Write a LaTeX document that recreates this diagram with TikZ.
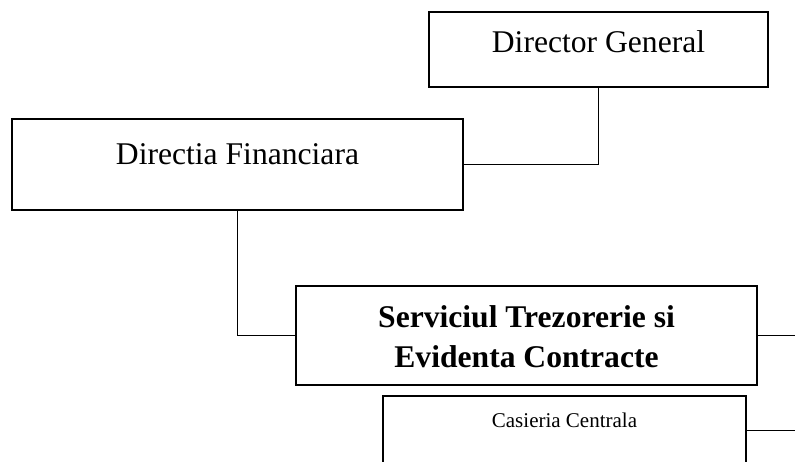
\documentclass[tikz,border=0pt]{standalone}
\usepackage{fontspec}
\setmainfont{Liberation Serif}
\begin{document}
\begin{tikzpicture}[x=1pt,y=-1pt,
  orgbox/.style={draw=black,line width=2.8pt,inner sep=0pt,fill=none},
  bigtext/.style={inner sep=0pt,anchor=base,font=\fontsize{31.6}{40}\selectfont},
  boldtext/.style={inner sep=0pt,anchor=base,font=\fontsize{31.6}{40}\selectfont\bfseries},
  smalltext/.style={inner sep=0pt,anchor=base,font=\fontsize{21}{26}\selectfont},
  link/.style={draw=black,line width=1.3pt},
  thinlink/.style={draw=black,line width=1pt}]
\useasboundingbox (0,0) rectangle (795,461);
\clip (0,0) rectangle (795,461);

% boxes
\node[orgbox,minimum width=339pt,minimum height=75pt] (dg) at (598.5,49.5) {};
\node[orgbox,minimum width=451pt,minimum height=91pt] (df) at (237.5,164.5) {};
\node[orgbox,minimum width=461pt,minimum height=99pt] (stec) at (526.5,335.5) {};
\node[orgbox,minimum width=363pt,minimum height=68pt] (cc) at (564.5,430) {};

% labels
\node[bigtext] (dgt) at (598.5,52) {Director General};
\node[bigtext] (dft) at (237.5,164) {Directia Financiara};
\node[boldtext] (stect1) at (526.5,327) {Serviciul Trezorerie si};
\node[boldtext] (stect2) at (526.5,367) {Evidenta Contracte};
\node[smalltext] (cct) at (564.5,427) {Casieria Centrala};

% free ends at the right margin
\coordinate (stecout) at (795,335.5);
\coordinate (ccout) at (795,430);

% connectors
\draw[link] (dg.south) |- (df.east);
\draw[link] (df.south) |- (stec.west);
\draw[link] (stec.east) -- (stecout);
\draw[thinlink] (cc.east) -- (ccout);
\end{tikzpicture}
\end{document}
